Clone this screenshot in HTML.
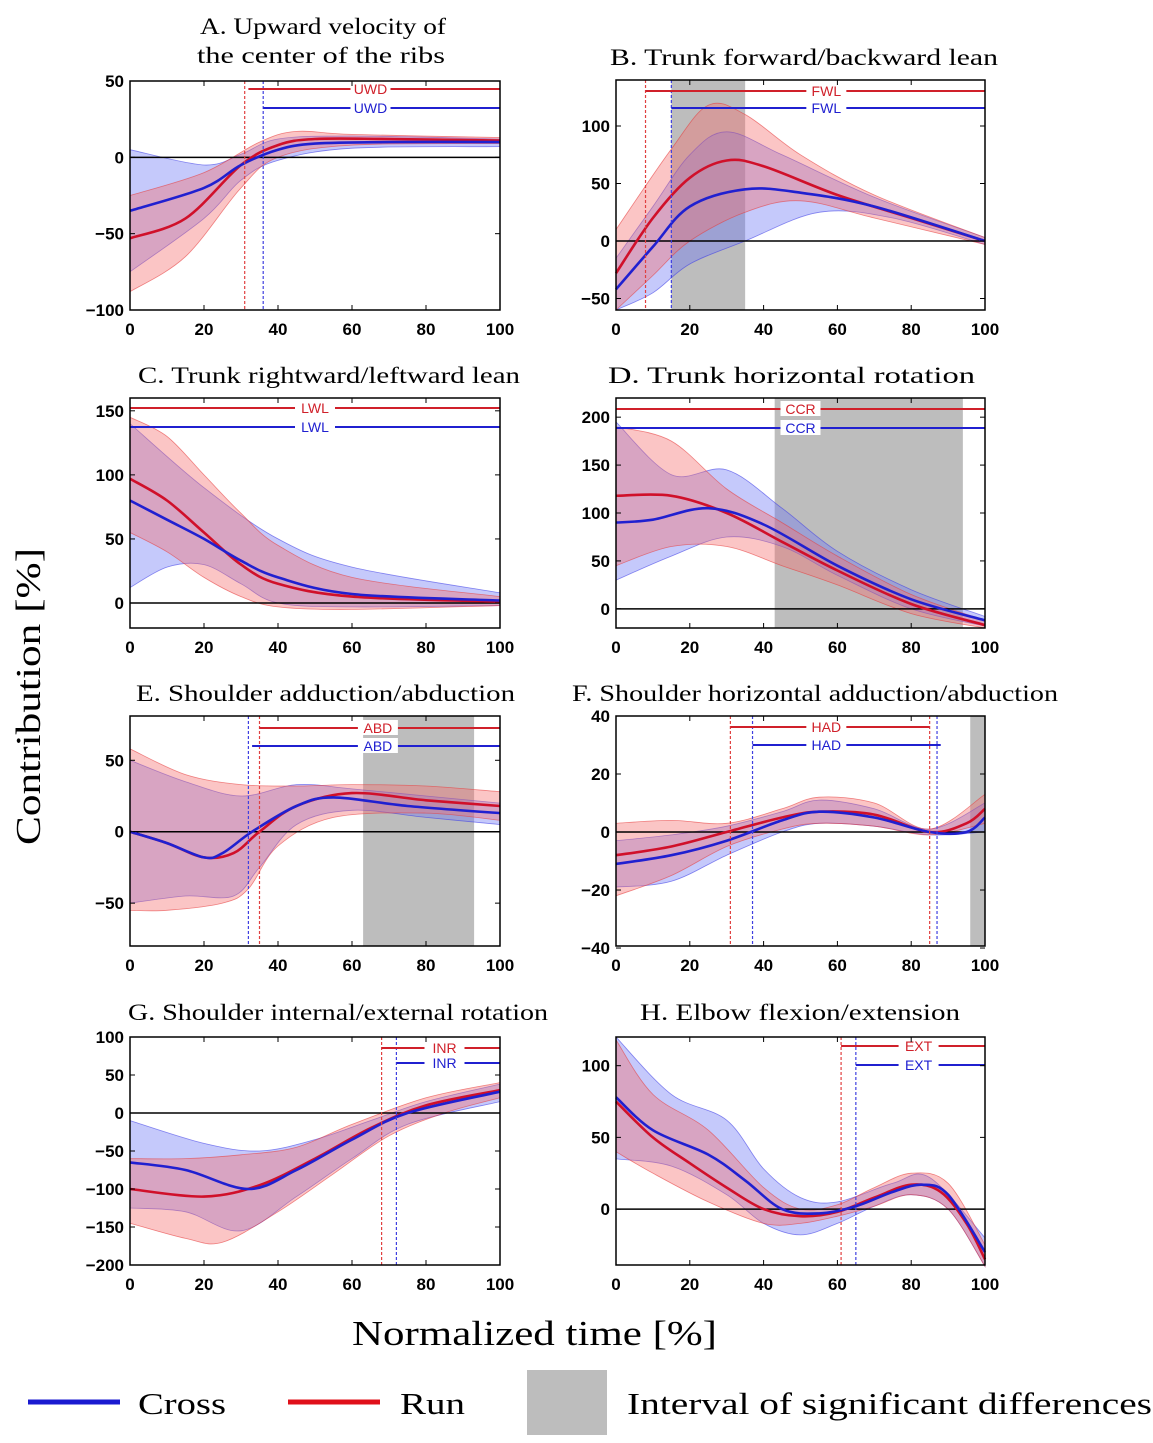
<!DOCTYPE html>
<html><head><meta charset="utf-8"><style>
html,body{margin:0;padding:0;background:#fff}
svg{display:block}
</style></head><body>
<svg id="s" width="1153" height="1443" viewBox="0 0 1153 1443" xmlns="http://www.w3.org/2000/svg" font-family="Liberation Serif, serif">
<text x="200" y="34" font-size="23" textLength="246" lengthAdjust="spacingAndGlyphs">A. Upward velocity of</text>
<text x="197" y="63" font-size="23" textLength="248" lengthAdjust="spacingAndGlyphs">the center of the ribs</text>
<text x="610" y="65" font-size="23" textLength="388" lengthAdjust="spacingAndGlyphs">B. Trunk forward/backward lean</text>
<text x="138" y="383" font-size="23" textLength="382" lengthAdjust="spacingAndGlyphs">C. Trunk rightward/leftward lean</text>
<text x="608" y="383" font-size="23" textLength="367" lengthAdjust="spacingAndGlyphs">D. Trunk horizontal rotation</text>
<text x="136" y="701" font-size="23" textLength="379" lengthAdjust="spacingAndGlyphs">E. Shoulder adduction/abduction</text>
<text x="572" y="701" font-size="23" textLength="486" lengthAdjust="spacingAndGlyphs">F. Shoulder horizontal adduction/abduction</text>
<text x="128" y="1020" font-size="23" textLength="420" lengthAdjust="spacingAndGlyphs">G. Shoulder internal/external rotation</text>
<text x="640" y="1020" font-size="23" textLength="320" lengthAdjust="spacingAndGlyphs">H. Elbow flexion/extension</text>
<text x="352" y="1345" font-size="35" textLength="365" lengthAdjust="spacingAndGlyphs">Normalized time [%]</text>
<text transform="translate(40,845) rotate(-90)" font-size="35" textLength="297" lengthAdjust="spacingAndGlyphs">Contribution [%]</text>
<line x1="28" y1="1402" x2="120" y2="1402" stroke="#1a1ad0" stroke-width="5"/>
<text x="138" y="1414" font-size="31" textLength="88" lengthAdjust="spacingAndGlyphs">Cross</text>
<line x1="288" y1="1402" x2="380" y2="1402" stroke="#e0101a" stroke-width="5"/>
<text x="400" y="1414" font-size="31" textLength="65" lengthAdjust="spacingAndGlyphs">Run</text>
<rect x="527" y="1370" width="80" height="65" fill="#bdbdbd"/>
<text x="627" y="1414" font-size="31" textLength="525" lengthAdjust="spacingAndGlyphs">Interval of significant differences</text>
<g id="g"></g>
</svg>
<script>
const NS="http://www.w3.org/2000/svg";
const g=document.getElementById('g');
function el(t,a,txt){const e=document.createElementNS(NS,t);for(const k in a)e.setAttribute(k,a[k]);if(txt!==undefined)e.textContent=txt;g.appendChild(e);return e;}
function smooth(pts){
 let d="";for(let i=0;i<pts.length-1;i++){const p0=pts[i-1]||pts[i],p1=pts[i],p2=pts[i+1],p3=pts[i+2]||p2;
 const c1=[p1[0]+(p2[0]-p0[0])/6,p1[1]+(p2[1]-p0[1])/6],c2=[p2[0]-(p3[0]-p1[0])/6,p2[1]-(p3[1]-p1[1])/6];
 d+=` C${c1[0].toFixed(1)},${c1[1].toFixed(1)} ${c2[0].toFixed(1)},${c2[1].toFixed(1)} ${p2[0].toFixed(1)},${p2[1].toFixed(1)}`;}
 return d;}
function panel(P){
 const X=t=>P.x0+(P.x1-P.x0)*t/100, Y=v=>P.yt+(P.ymax-v)/(P.ymax-P.ymin)*(P.yb-P.yt);
 el('rect',{x:P.x0,y:P.yt,width:P.x1-P.x0,height:P.yb-P.yt,fill:'#fff'});
 (P.gray||[]).forEach(r=>el('rect',{x:X(r[0]),y:P.yt,width:X(r[1])-X(r[0]),height:P.yb-P.yt,fill:'#bdbdbd'}));
 const map=a=>a.map(p=>[X(p[0]),Y(p[1])]);
 function band(up,lo,fill,st){const u=map(up),l=map(lo).reverse();
  el('path',{d:`M${u[0][0]},${u[0][1]}`+smooth(u)+` L${l[0][0]},${l[0][1]}`+smooth(l)+'Z',fill:fill,stroke:st,'stroke-width':0.8});}
 band(P.bu,P.bl,'rgba(110,120,245,0.4)','rgba(60,60,230,0.6)');
 band(P.ru,P.rl,'rgba(245,110,110,0.4)','rgba(230,60,60,0.6)');
 el('line',{x1:P.x0,y1:Y(0),x2:P.x1,y2:Y(0),stroke:'#000','stroke-width':1.5});
 const rm=map(P.rm),bm=map(P.bm);
 el('path',{d:`M${rm[0][0]},${rm[0][1]}`+smooth(rm),fill:'none',stroke:'#d0102a','stroke-width':2.6});
 el('path',{d:`M${bm[0][0]},${bm[0][1]}`+smooth(bm),fill:'none',stroke:'#2020d0','stroke-width':2.6});
 (P.rd||[]).forEach(t=>el('line',{x1:X(t),y1:P.yt,x2:X(t),y2:P.yb,stroke:'#e04040','stroke-width':1.2,'stroke-dasharray':'3,2'}));
 (P.bd||[]).forEach(t=>el('line',{x1:X(t),y1:P.yt,x2:X(t),y2:P.yb,stroke:'#4040e0','stroke-width':1.2,'stroke-dasharray':'3,2'}));
 P.bars.forEach(b=>{const c=b.c;el('line',{x1:X(b.a),y1:b.y,x2:X(b.b),y2:b.y,stroke:c,'stroke-width':2});
  const lx=X(P.lt);el('rect',{x:lx-20,y:b.y-8,width:40,height:15,fill:'#fff'});
  el('text',{x:lx,y:b.y+5,'font-size':14,'text-anchor':'middle',fill:c,'font-family':'Liberation Sans, sans-serif'},b.l);});
 el('rect',{x:P.x0,y:P.yt,width:P.x1-P.x0,height:P.yb-P.yt,fill:'none',stroke:'#000','stroke-width':1.5});
 for(let t=0;t<=100;t+=20){el('line',{x1:X(t),y1:P.yb,x2:X(t),y2:P.yb-5,stroke:'#000'});el('line',{x1:X(t),y1:P.yt,x2:X(t),y2:P.yt+5,stroke:'#000'});
  el('text',{x:X(t),y:P.yb+25,'font-size':17,'font-weight':'bold','text-anchor':'middle','font-family':'Liberation Sans, sans-serif'},t);}
 P.ticks.forEach(v=>{el('line',{x1:P.x0,y1:Y(v),x2:P.x0+5,y2:Y(v),stroke:'#000'});el('line',{x1:P.x1,y1:Y(v),x2:P.x1-5,y2:Y(v),stroke:'#000'});
  el('text',{x:P.x0-6,y:Y(v)+6,'font-size':17,'font-weight':'bold','text-anchor':'end','font-family':'Liberation Sans, sans-serif'},v<0?'\u2212'+(-v):v);});
}
const L=[130,500],R=[616,985],RD='#d0202a',BL='#2020d0';
panel({x0:L[0],x1:L[1],yt:81,yb:310,ymin:-100,ymax:50,ticks:[50,0,-50,-100],lt:65,
 bm:[[0,-35],[20,-20],[30,-5],[40,5],[50,9],[70,10],[100,10]],bu:[[0,5],[20,-5],[30,2],[40,12],[60,14],[100,12]],bl:[[0,-75],[20,-40],[30,-15],[40,-2],[60,6],[100,7]],
 rm:[[0,-53],[15,-40],[30,-5],[40,8],[50,12],[70,12],[100,11]],ru:[[0,-25],[20,-10],[35,10],[45,17],[60,15],[100,13]],rl:[[0,-88],[15,-65],[30,-20],[40,0],[60,8],[100,9]],
 rd:[31],bd:[36],bars:[{a:32,b:100,y:89,c:RD,l:'UWD'},{a:36,b:100,y:108,c:BL,l:'UWD'}]});
panel({x0:R[0],x1:R[1],yt:80,yb:310,ymin:-60,ymax:140,ticks:[100,50,0,-50],lt:57,gray:[[15,35]],
 rm:[[0,-28],[10,20],[20,55],[30,70],[40,65],[60,40],[80,20],[100,0]],ru:[[0,10],[15,80],[25,118],[35,110],[50,75],[70,40],[100,3]],rl:[[0,-60],[10,-30],[20,0],[35,25],[50,35],[70,20],[100,-3]],
 bm:[[0,-42],[10,-5],[20,30],[35,45],[50,42],[70,30],[100,0]],bu:[[0,-15],[10,30],[20,75],[30,95],[45,75],[70,38],[100,3]],bl:[[0,-60],[10,-45],[20,-20],[35,0],[55,25],[75,20],[100,-3]],
 rd:[8],bd:[15],bars:[{a:8,b:100,y:91,c:RD,l:'FWL'},{a:15,b:100,y:108,c:BL,l:'FWL'}]});
panel({x0:L[0],x1:L[1],yt:398,yb:628,ymin:-19.5,ymax:160,ticks:[150,100,50,0],lt:50,
 rm:[[0,97],[10,80],[20,55],[30,30],[40,15],[60,5],[100,1]],ru:[[0,145],[10,130],[20,100],[30,70],[40,45],[60,20],[100,5]],rl:[[0,55],[10,40],[20,20],[30,5],[40,-3],[60,-5],[100,-2]],
 bm:[[0,80],[10,65],[20,50],[30,33],[40,20],[60,7],[100,2]],bu:[[0,140],[20,90],[40,50],[60,28],[100,8]],bl:[[0,12],[10,28],[20,30],[30,15],[40,0],[60,-3],[100,-2]],
 bars:[{a:0,b:100,y:408,c:RD,l:'LWL'},{a:0,b:100,y:427,c:BL,l:'LWL'}]});
panel({x0:R[0],x1:R[1],yt:398,yb:628,ymin:-20,ymax:220,ticks:[200,150,100,50,0],lt:50,gray:[[43,94]],
 rm:[[0,118],[15,118],[30,100],[45,70],[60,40],[80,5],[100,-17]],ru:[[0,190],[15,175],[30,125],[45,90],[60,55],[80,15],[100,-12]],rl:[[0,45],[15,65],[30,65],[45,45],[60,25],[80,-5],[100,-20]],
 bm:[[0,90],[10,93],[25,105],[40,88],[60,45],[80,10],[100,-12]],bu:[[0,195],[15,140],[30,145],[45,105],[60,60],[80,20],[100,-8]],bl:[[0,30],[15,55],[30,75],[45,65],[60,35],[80,0],[100,-18]],
 bars:[{a:0,b:100,y:409,c:RD,l:'CCR'},{a:0,b:100,y:428,c:BL,l:'CCR'}]});
panel({x0:L[0],x1:L[1],yt:716,yb:946,ymin:-80,ymax:81,ticks:[50,0,-50],lt:67,gray:[[63,93]],
 rm:[[0,0],[10,-8],[20,-18],[28,-15],[35,0],[45,18],[60,27],[80,22],[100,18]],ru:[[0,58],[15,40],[30,33],[45,32],[60,33],[80,32],[100,28]],rl:[[0,-55],[10,-55],[25,-50],[32,-40],[40,-10],[55,10],[80,13],[100,8]],
 bm:[[0,0],[10,-8],[20,-18],[25,-15],[33,0],[45,18],[55,24],[75,18],[100,13]],bu:[[0,50],[15,35],[30,25],[45,33],[60,30],[80,25],[100,20]],bl:[[0,-50],[15,-45],[28,-45],[35,-25],[45,5],[60,15],[80,10],[100,5]],
 rd:[35],bd:[32],bars:[{a:35,b:100,y:728,c:RD,l:'ABD'},{a:33,b:100,y:746,c:BL,l:'ABD'}]});
panel({x0:R[0],x1:R[1],yt:716,yb:946,ymin:-39.3,ymax:40,ticks:[40,20,0,-20,-40],lt:57,gray:[[96,100]],
 rm:[[0,-8],[15,-5],[30,0],[45,5],[55,7],[70,6],[85,0],[95,3],[100,8]],ru:[[0,3],[15,4],[30,3],[45,8],[55,12],[70,10],[85,1],[100,13]],rl:[[0,-22],[15,-15],[30,-5],[45,1],[55,3],[70,2],[85,-1],[100,3]],
 bm:[[0,-11],[15,-8],[30,-3],[45,4],[55,7],[70,5],[85,0],[95,0],[100,5]],bu:[[0,-3],[15,-1],[30,2],[45,7],[55,11],[70,8],[85,1],[100,10]],bl:[[0,-19],[15,-17],[30,-8],[45,0],[55,3],[70,2],[85,-1],[100,0]],
 rd:[31,85],bd:[37,87],bars:[{a:31,b:85,y:727,c:RD,l:'HAD'},{a:37,b:88,y:745,c:BL,l:'HAD'}]});
panel({x0:L[0],x1:L[1],yt:1037,yb:1265,ymin:-200,ymax:100,ticks:[100,50,0,-50,-100,-150,-200],lt:85,
 rm:[[0,-100],[20,-110],[35,-95],[50,-60],[65,-20],[80,10],[100,30]],ru:[[0,-60],[15,-60],[30,-55],[45,-45],[60,-15],[80,20],[100,40]],rl:[[0,-145],[15,-165],[25,-170],[40,-130],[55,-80],[70,-30],[85,0],[100,20]],
 bm:[[0,-65],[15,-75],[32,-100],[45,-75],[60,-35],[75,0],[100,28]],bu:[[0,-10],[20,-40],[35,-50],[50,-35],[65,-10],[80,15],[100,38]],bl:[[0,-125],[15,-130],[30,-155],[45,-110],[60,-60],[75,-15],[100,15]],
 rd:[68],bd:[72],bars:[{a:68,b:100,y:1048,c:RD,l:'INR'},{a:72,b:100,y:1063,c:BL,l:'INR'}]});
panel({x0:R[0],x1:R[1],yt:1037,yb:1265,ymin:-39,ymax:120,ticks:[100,50,0],lt:82,
 rm:[[0,75],[10,50],[20,32],[30,15],[40,0],[50,-5],[60,-2],[70,8],[80,17],[88,12],[95,-10],[100,-35]],ru:[[0,118],[10,80],[25,55],[40,15],[50,0],[60,3],[70,15],[80,25],[90,18],[100,-25]],rl:[[0,40],[10,25],[25,5],[40,-10],[50,-10],[60,-5],[70,2],[80,10],[90,0],[100,-40]],
 bm:[[0,78],[10,55],[25,38],[35,20],[45,0],[55,-3],[65,2],[75,12],[83,17],[90,10],[100,-30]],bu:[[0,120],[15,80],[30,62],[40,28],[50,8],[60,5],[75,18],[85,22],[100,-20]],bl:[[0,35],[15,30],[30,10],[40,-10],[50,-18],[60,-10],[70,2],[80,10],[90,0],[100,-40]],
 rd:[61],bd:[65],bars:[{a:61,b:100,y:1046,c:RD,l:'EXT'},{a:65,b:100,y:1065,c:BL,l:'EXT'}]});
</script>
</body></html>
